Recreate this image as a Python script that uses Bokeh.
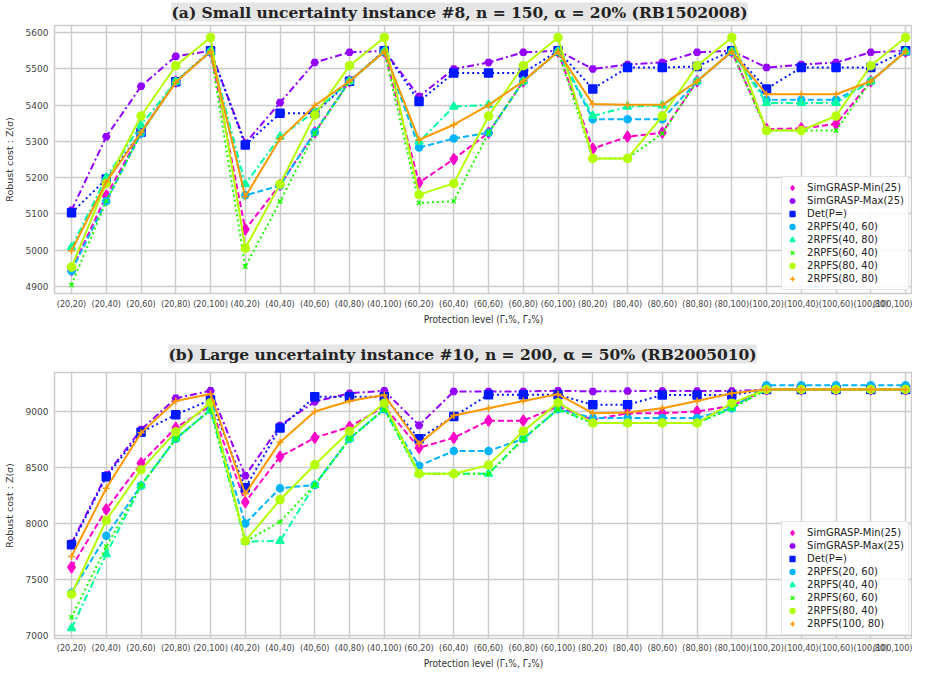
from bokeh.plotting import figure
from bokeh.models import Range1d, FixedTicker, Legend, LegendItem, Title
from bokeh.layouts import column
from bokeh.embed import file_html
from bokeh.resources import INLINE

levels = ["(20,20)", "(20,40)", "(20,60)", "(20,80)", "(20,100)",
          "(40,20)", "(40,40)", "(40,60)", "(40,80)", "(40,100)",
          "(60,20)", "(60,40)", "(60,60)", "(60,80)", "(60,100)",
          "(80,20)", "(80,40)", "(80,60)", "(80,80)", "(80,100)",
          "(100,20)", "(100,40)", "(100,60)", "(100,80)", "(100,100)"]

# ---- panel (a) ----
labels_a = ["SimGRASP-Min(25)", "SimGRASP-Max(25)", "Det(P=)", "2RPFS(40, 60)",
            "2RPFS(40, 80)", "2RPFS(60, 40)", "2RPFS(80, 40)", "2RPFS(80, 80)"]
min_a = [4945, 5150, 5325, 5465, 5548, 5057, 5180, 5325, 5466, 5548, 5186, 5251, 5324, 5466, 5548,
         5280, 5313, 5324, 5466, 5548, 5334, 5336, 5348, 5466, 5548]
max_a = [5110, 5313, 5452, 5535, 5550, 5295, 5407, 5518, 5546, 5550, 5424, 5500, 5518, 5546, 5550,
         5500, 5512, 5518, 5546, 5550, 5504, 5512, 5518, 5546, 5550]
det_a = [5103, 5196, 5325, 5465, 5550, 5290, 5378, 5378, 5466, 5550, 5410, 5489, 5489, 5489, 5550,
         5445, 5504, 5504, 5507, 5550, 5445, 5504, 5504, 5504, 5550]
r40_60_a = [4942, 5135, 5322, 5465, 5548, 5151, 5178, 5325, 5466, 5548, 5283, 5308, 5324, 5466, 5548,
            5361, 5361, 5361, 5466, 5548, 5415, 5415, 5415, 5466, 5548]
r40_80_a = [5008, 5200, 5345, 5465, 5548, 5182, 5313, 5382, 5466, 5548, 5299, 5396, 5401, 5466, 5548,
            5370, 5396, 5399, 5466, 5548, 5406, 5406, 5406, 5466, 5548]
r60_40_a = [4904, 5135, 5322, 5465, 5548, 4954, 5134, 5322, 5466, 5548, 5130, 5135, 5324, 5466, 5548,
            5253, 5253, 5322, 5466, 5548, 5330, 5330, 5330, 5466, 5548]
r80_40_a = [4953, 5184, 5370, 5509, 5587, 5005, 5182, 5373, 5509, 5587, 5153, 5184, 5370, 5509, 5587,
            5253, 5253, 5370, 5509, 5587, 5330, 5330, 5370, 5509, 5587]
r80_80_a = [4998, 5188, 5325, 5463, 5548, 5147, 5307, 5399, 5466, 5548, 5304, 5346, 5400, 5466, 5548,
            5403, 5401, 5401, 5466, 5548, 5430, 5430, 5430, 5466, 5548]
yticks_a = [4900, 5000, 5100, 5200, 5300, 5400, 5500, 5600]

# ---- panel (b) ----
labels_b = ["SimGRASP-Min(25)", "SimGRASP-Max(25)", "Det(P=)", "2RPFS(20, 60)",
            "2RPFS(40, 40)", "2RPFS(60, 60)", "2RPFS(80, 40)", "2RPFS(100, 80)"]
min_b = [7609, 8126, 8538, 8853, 9050, 8191, 8597, 8765, 8862, 9044, 8676, 8765, 8918, 8918, 9044,
         8926, 8985, 8985, 9000, 9050, 9197, 9197, 9197, 9197, 9197]
max_b = [7824, 8432, 8838, 9118, 9185, 8426, 8874, 9088, 9162, 9185, 8876, 9179, 9179, 9179, 9185,
         9179, 9182, 9182, 9182, 9182, 9197, 9197, 9197, 9197, 9197]
det_b = [7809, 8418, 8815, 8971, 9103, 8318, 8853, 9132, 9132, 9132, 8756, 8956, 9150, 9150, 9150,
         9059, 9059, 9147, 9147, 9147, 9197, 9197, 9197, 9197, 9197]
r20_60_b = [7382, 7891, 8338, 8756, 9015, 8000, 8315, 8344, 8756, 9020, 8515, 8647, 8647, 8756, 9020,
            8941, 8941, 8941, 8941, 9029, 9235, 9235, 9235, 9235, 9235]
r40_40_b = [7065, 7726, 8338, 8756, 9015, 7838, 7844, 8344, 8756, 9020, 8444, 8444, 8444, 8756, 9020,
            8897, 8897, 8897, 8897, 9029, 9197, 9197, 9197, 9197, 9197]
r60_60_b = [7162, 7794, 8338, 8756, 9015, 7838, 8015, 8344, 8756, 9020, 8444, 8444, 8444, 8756, 9020,
            8897, 8897, 8897, 8897, 9029, 9197, 9197, 9197, 9197, 9197]
r80_40_b = [7368, 8029, 8479, 8818, 9079, 7844, 8212, 8524, 8824, 9074, 8444, 8444, 8521, 8824, 9079,
            8897, 8897, 8897, 8897, 9074, 9197, 9197, 9197, 9197, 9197]
r100_80_b = [7706, 8315, 8809, 9094, 9156, 8265, 8726, 9000, 9094, 9147, 8712, 8965, 9029, 9094, 9153,
             8985, 8991, 9029, 9094, 9162, 9197, 9197, 9197, 9197, 9197]
yticks_b = [7000, 7500, 8000, 8500, 9000]

colors = ["#ff00c8", "#9400ff", "#0019ff", "#00b4ff", "#00ffa0", "#1eff00", "#b4ff00", "#ff9900"]
dashes = ["6 3", "7 3 2 3", "2 3", "6 3", "7 3 2 3", "2 3", "solid", "solid"]
markers = ["diamond", "hex", "square", "circle", "triangle", "x", "circle", "cross"]
msizes = [11, 7, 8, 7, 8, 6, 8, 7]


def panel(title, labels, series, yr, yticks, fh, bottom, gap, tstand, toff, lstand):
    xs = list(range(len(levels)))
    p = figure(width=912, frame_height=fh, x_range=Range1d(-0.49, 24.2), y_range=Range1d(*yr),
               output_backend="svg", toolbar_location=None, title=None,
               min_border_left=50, min_border_right=0, min_border_top=0, min_border_bottom=bottom)
    spacer = Title(text=" ", text_font_size="%dpx" % gap, standoff=0, text_color="white")
    p.add_layout(spacer, "above")
    t = Title(text=title, text_font="DejaVu Serif", text_font_style="bold", text_font_size="15.5px",
              align="left", offset=toff, standoff=tstand, background_fill_color="#e5e5e5",
              text_color="#222222")
    p.add_layout(t, "above")
    p.background_fill_color = "white"
    p.outline_line_color = "#cccccc"
    p.outline_line_width = 1.5
    p.grid.grid_line_color = "#cccccc"
    p.grid.grid_line_width = 1.5
    p.xaxis.ticker = FixedTicker(ticks=xs)
    p.xaxis.major_label_overrides = {i: lab for i, lab in enumerate(levels)}
    p.yaxis.ticker = FixedTicker(ticks=yticks)
    for ax in (p.xaxis, p.yaxis):
        ax.axis_line_color = None
        ax.major_tick_line_color = None
        ax.minor_tick_line_color = None
        ax.major_tick_out = 0
        ax.major_tick_in = 0
        ax.minor_tick_out = 0
        ax.minor_tick_in = 0
        ax.major_label_text_color = "#444444"
        ax.major_label_text_font = "DejaVu Sans"
        ax.axis_label_text_font = "DejaVu Sans"
        ax.axis_label_text_font_style = "normal"
        ax.axis_label_text_color = "#333333"
    p.yaxis.major_label_standoff = 6
    p.xaxis.major_label_standoff = lstand
    p.xaxis.major_label_text_font = "DejaVu Sans Condensed"
    p.xaxis.major_label_text_font_size = "9px"
    p.xaxis.axis_label_text_font = "DejaVu Sans Condensed"
    p.xaxis.axis_label_text_font_size = "10px"
    p.yaxis.axis_label_text_font_size = "9.5px"
    p.yaxis.major_label_text_font_size = "9px"
    p.xaxis.axis_label = "Protection level (\u0393\u2081%, \u0393\u2082%)"
    p.yaxis.axis_label = "Robust cost : Z(\u03c3)"
    p.xaxis.axis_label_standoff = 2
    p.yaxis.axis_label_standoff = 8
    items = []
    for lab, ys, c, d, m, s in zip(labels, series, colors, dashes, markers, msizes):
        p.line(xs, ys, line_color=c, line_width=2, line_dash=d)
        r = p.scatter(xs, ys, marker=m, size=s, fill_color=c, line_color=c, line_width=1.5)
        items.append(LegendItem(label=lab, renderers=[r]))
    leg = Legend(items=items, location="bottom_right")
    leg.label_text_font = "DejaVu Sans"
    leg.label_text_font_size = "10px"
    leg.label_text_color = "#222222"
    leg.label_height = 13
    leg.glyph_height = 13
    leg.glyph_width = 12
    leg.spacing = 0
    leg.padding = 4
    leg.margin = 3
    leg.label_standoff = 9
    leg.border_line_color = "#cccccc"
    leg.background_fill_alpha = 0.85
    p.add_layout(leg)
    return p


pa = panel("(a) Small uncertainty instance #8, n = 150, \u03b1 = 20% (RB1502008)", labels_a,
           [min_a, max_a, det_a, r40_60_a, r40_80_a, r60_40_a, r80_40_a, r80_80_a],
           (4880, 5620), yticks_a, 268, 48, 2, 0, 117, 5)
pb = panel("(b) Large uncertainty instance #10, n = 200, \u03b1 = 50% (RB2005010)", labels_b,
           [min_b, max_b, det_b, r20_60_b, r40_40_b, r60_60_b, r80_40_b, r100_80_b],
           (6973, 9348), yticks_b, 266, 0, 5, 2, 114, 4)

layout = column(pa, pb, spacing=0)
open("out.html", "w").write(file_html(layout, INLINE))
